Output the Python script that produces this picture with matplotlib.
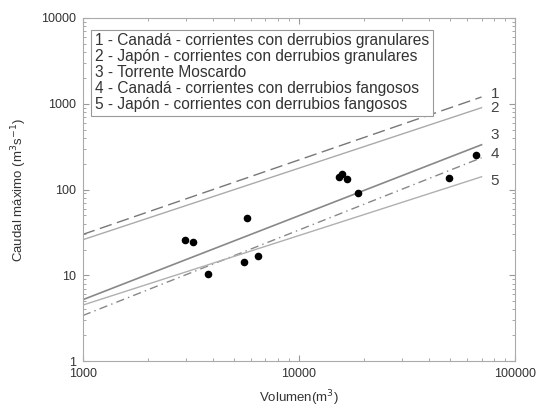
import matplotlib.pyplot as plt
from matplotlib.ticker import LogLocator, NullFormatter, FixedLocator, FixedFormatter

plt.rcParams['font.family'] = ['Liberation Sans', 'DejaVu Sans']

# measured points (volume m3, peak discharge m3/s)
vol = [2965, 3228, 3796, 5741, 5559, 6454, 15800, 15300, 16700, 18750, 65900, 49400]
qmax = [25.5, 24.8, 10.3, 47.2, 14.5, 16.6, 153, 142, 134, 90, 255, 138]

# regression lines, value at start / end volume
line_v = [1000, 70000]
line1 = [30, 1200]
line2 = [26, 900]
line3 = [5.2, 333]
line4 = [3.4, 235]
line5 = [4.5, 141]

legend_text = ["1 - Canadá - corrientes con derrubios granulares",
               "2 - Japón - corrientes con derrubios granulares",
               "3 - Torrente Moscardo",
               "4 - Canadá - corrientes con derrubios fangosos",
               "5 - Japón - corrientes con derrubios fangosos"]

fig = plt.figure(figsize=(5.41, 4.09), dpi=100)
ax = fig.add_axes([0.153, 0.117, 0.799, 0.839])

ax.plot(line_v, line1, color='#777777', lw=1.0, ls=(0, (9, 4)))
ax.plot(line_v, line2, color='#aaaaaa', lw=1.0)
ax.plot(line_v, line3, color='#888888', lw=1.2)
ax.plot(line_v, line4, color='#888888', lw=1.0, ls=(0, (6, 3, 1, 3)))
ax.plot(line_v, line5, color='#b0b0b0', lw=1.0)
ax.scatter(vol, qmax, s=20, color='black', zorder=3)

labels = ['1', '2', '3', '4', '5']
label_y = [1300, 900, 430, 260, 125]
for lab, yy in zip(labels, label_y):
    ax.text(77000, yy, lab, fontsize=11, color='#444444', va='center')

ax.set_xscale('log')
ax.set_yscale('log')
ax.set_xlim(1000, 100000)
ax.set_ylim(1, 10000)
ax.xaxis.set_major_locator(FixedLocator([1000, 10000, 100000]))
ax.xaxis.set_major_formatter(FixedFormatter(['1000', '10000', '100000']))
ax.yaxis.set_major_locator(FixedLocator([1, 10, 100, 1000, 10000]))
ax.yaxis.set_major_formatter(FixedFormatter(['1', '10', '100', '1000', '10000']))
ax.xaxis.set_minor_locator(LogLocator(base=10, subs=range(2, 10)))
ax.yaxis.set_minor_locator(LogLocator(base=10, subs=range(2, 10)))
ax.xaxis.set_minor_formatter(NullFormatter())
ax.yaxis.set_minor_formatter(NullFormatter())
ax.tick_params(which='both', direction='in', top=True, right=True, colors='#999999',
               labelcolor='#333333', labelsize=9)
ax.tick_params(which='major', length=4, pad=5)
ax.tick_params(which='minor', length=2.5)
for sp in ax.spines.values():
    sp.set_color('#aaaaaa')

ax.set_xlabel('Volumen(m$^3$)', fontsize=9.5, color='#333333')
ax.set_ylabel('Caudal máximo (m$^3$s$^{-1}$)', fontsize=9.5, color='#333333')
ax.xaxis.set_label_coords(0.5, -0.078)
ax.yaxis.set_label_coords(-0.125, 0.5)

ax.text(0.028, 0.955, "\n".join(legend_text), transform=ax.transAxes, fontsize=11.2,
        color='#333333', va='top', ha='left', linespacing=1.08,
        bbox=dict(boxstyle='square,pad=0.25', facecolor='white', edgecolor='#999999', lw=0.8))

fig.savefig('out.png', dpi=100)
